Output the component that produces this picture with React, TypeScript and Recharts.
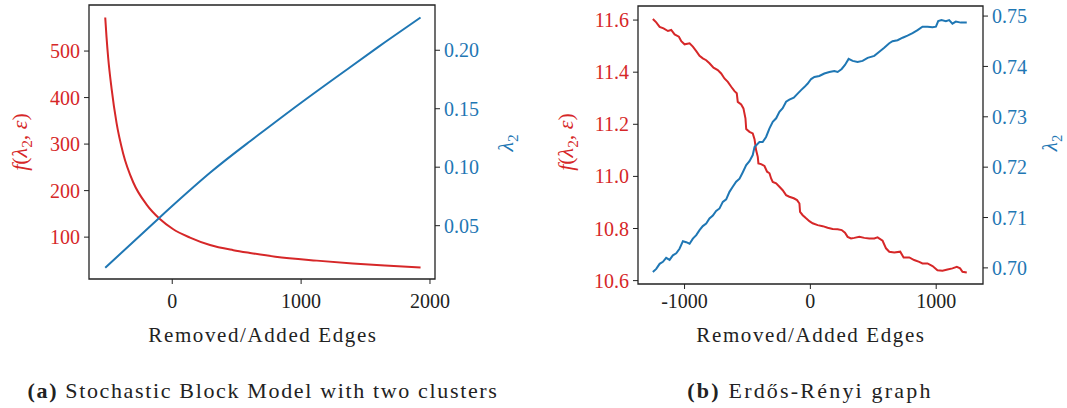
import React from 'react';
import { LineChart, Line, XAxis, YAxis, ReferenceArea } from 'recharts';

const RED = '#d62728';
const BLUE = '#1f77b4';
const INK = '#222';
const FONT = '"Liberation Serif", "Times New Roman", serif';

// (a) stochastic block model
const sbmFx = [-520, -510, -497, -471, -432, -381, -303, -199, -96, 8, 138, 293, 474, 604, 800, 1122, 1400, 1650, 1927];
const sbmF = [572, 530, 485, 420, 345, 280, 218, 170, 139, 117, 99, 83, 72, 66, 58, 49.5, 43.5, 39, 34.5];
const sbmLx = [-520, -110, 293, 604, 992, 1380, 1650, 1927];
const sbmL = [0.014, 0.0558, 0.0952, 0.1222, 0.1545, 0.1855, 0.2068, 0.228];

const sbmXTicks = [0, 1000, 2000];
const sbmFTicks = [100, 200, 300, 400, 500];
const sbmLTicks = [0.05, 0.1, 0.15, 0.2];

// (b) Erdős-Rényi
const erFx = [
  -1252, -1225, -1198, -1167, -1132, -1106, -1079, -1045, -1026, -1000,
  -960, -934, -907, -881, -855, -828, -802, -770, -736, -709,
  -683, -656, -629, -603, -585, -577, -550, -532, -516, -510,
  -484, -458, -444, -431, -418, -413, -392, -365, -344, -325,
  -312, -299, -272, -246, -220, -193, -167, -132, -106, -87,
  -82, -61, -34, -8, 18, 58, 98, 137, 177, 217,
  249, 275, 296, 323, 349, 389, 429, 468, 508, 534,
  574, 601, 627, 667, 714, 741, 786, 825, 865, 891,
  931, 971, 1010, 1050, 1090, 1129, 1164, 1190, 1209, 1243,
];
const erF = [
  11.604, 11.591, 11.574, 11.568, 11.558, 11.562, 11.545, 11.536, 11.519, 11.507,
  11.511, 11.498, 11.481, 11.463, 11.453, 11.446, 11.434, 11.417, 11.408, 11.395,
  11.376, 11.363, 11.344, 11.327, 11.319, 11.286, 11.276, 11.261, 11.223, 11.182,
  11.171, 11.165, 11.143, 11.1, 11.075, 11.05, 11.047, 11.04, 11.018, 11.012,
  10.992, 10.979, 10.973, 10.96, 10.947, 10.928, 10.922, 10.916, 10.909, 10.896,
  10.864, 10.851, 10.839, 10.828, 10.82, 10.813, 10.809, 10.803, 10.798, 10.797,
  10.794, 10.784, 10.768, 10.762, 10.764, 10.768, 10.764, 10.762, 10.762, 10.766,
  10.753, 10.724, 10.711, 10.708, 10.711, 10.689, 10.689, 10.679, 10.672, 10.666,
  10.666, 10.656, 10.64, 10.638, 10.643, 10.647, 10.653, 10.647, 10.634, 10.631,
];
const erLx = [
  -1252, -1225, -1198, -1172, -1146, -1119, -1093, -1066, -1040, -1013,
  -987, -960, -934, -907, -881, -855, -828, -802, -775, -749,
  -722, -696, -669, -643, -617, -590, -563, -537, -510, -484,
  -458, -444, -405, -379, -352, -325, -299, -272, -246, -220,
  -193, -167, -132, -101, -74, -48, -21, 6, 32, 71,
  111, 151, 190, 217, 249, 275, 304, 336, 375, 415,
  455, 508, 548, 587, 627, 653, 693, 733, 772, 812,
  852, 891, 931, 971, 998, 1016, 1042, 1077, 1103, 1129,
  1156, 1196, 1243,
];
const erL = [
  0.6992, 0.6998, 0.7008, 0.7012, 0.702, 0.7016, 0.7025, 0.7029, 0.7038, 0.7053,
  0.7051, 0.7048, 0.7058, 0.7065, 0.7075, 0.7083, 0.7088, 0.7098, 0.7104, 0.7113,
  0.7118, 0.7131, 0.7136, 0.7151, 0.7161, 0.7171, 0.7177, 0.719, 0.7204, 0.7212,
  0.7224, 0.724, 0.725, 0.725, 0.726, 0.7277, 0.729, 0.7297, 0.731, 0.7317,
  0.733, 0.7334, 0.7338, 0.7346, 0.7353, 0.7359, 0.7366, 0.7375, 0.7379, 0.7381,
  0.7386, 0.7389, 0.7391, 0.7389, 0.7395, 0.7403, 0.7415, 0.7411, 0.7409, 0.7411,
  0.7417, 0.7421, 0.7429, 0.7437, 0.7446, 0.745, 0.7452, 0.7457, 0.7461, 0.7466,
  0.7472, 0.7479, 0.7479, 0.7478, 0.7479, 0.749, 0.7492, 0.749, 0.7492, 0.7485,
  0.7489, 0.7487, 0.7487,
];

const erXTicks = [-1000, 0, 1000];
const erFTicks = [10.6, 10.8, 11.0, 11.2, 11.4, 11.6];
const erLTicks = [0.7, 0.71, 0.72, 0.73, 0.74, 0.75];

const pts = (xs: number[], ys: number[]) => xs.map((x, i) => ({ x, y: ys[i] }));

const tickFont = (fill: string) => ({ fontSize: 20, fontFamily: FONT, fill });

type Curve = 'monotone' | 'linear' | 'natural';

type PanelProps = {
  left: number;
  width: number;
  margin: { top: number; right: number; bottom: number; left: number };
  leftW: number;
  rightW: number;
  xDomain: [number, number];
  fDomain: [number, number];
  lDomain: [number, number];
  xTicks: number[];
  fTicks: number[];
  lTicks: number[];
  fDigits: number;
  xTickMargin: number;
  red: { x: number; y: number }[];
  blue: { x: number; y: number }[];
  redCurve: Curve;
  blueCurve: Curve;
};

const Panel = (p: PanelProps) => (
  <div style={{ position: 'absolute', left: p.left, top: 0 }}>
    <LineChart width={p.width} height={330} margin={p.margin}>
      <XAxis
        type="number"
        dataKey="x"
        domain={p.xDomain}
        ticks={p.xTicks}
        allowDataOverflow
        axisLine={false}
        tickLine={{ stroke: INK }}
        tickSize={5}
        tickMargin={p.xTickMargin}
        height={30}
        tick={tickFont(INK)}
        interval={0}
      />
      <YAxis
        yAxisId="f"
        type="number"
        domain={p.fDomain}
        ticks={p.fTicks}
        allowDataOverflow
        axisLine={false}
        tickLine={{ stroke: INK }}
        tickSize={5}
        tickMargin={4}
        width={p.leftW}
        tick={tickFont(RED)}
        tickFormatter={(v: number) => v.toFixed(p.fDigits)}
        interval={0}
      />
      <YAxis
        yAxisId="l"
        orientation="right"
        type="number"
        domain={p.lDomain}
        ticks={p.lTicks}
        allowDataOverflow
        axisLine={false}
        tickLine={{ stroke: INK }}
        tickSize={5}
        tickMargin={4}
        width={p.rightW}
        tick={tickFont(BLUE)}
        tickFormatter={(v: number) => v.toFixed(2)}
        interval={0}
      />
      <ReferenceArea
        yAxisId="f"
        x1={p.xDomain[0]}
        x2={p.xDomain[1]}
        y1={p.fDomain[0]}
        y2={p.fDomain[1]}
        fill="none"
        stroke={INK}
        strokeWidth={1.3}
        ifOverflow="visible"
      />
      <Line
        yAxisId="f"
        data={p.red}
        dataKey="y"
        type={p.redCurve}
        stroke={RED}
        strokeWidth={2}
        dot={false}
        isAnimationActive={false}
      />
      <Line
        yAxisId="l"
        data={p.blue}
        dataKey="y"
        type={p.blueCurve}
        stroke={BLUE}
        strokeWidth={2}
        dot={false}
        isAnimationActive={false}
      />
    </LineChart>
  </div>
);

const Label = ({ x, y, rotate = 0, color = INK, size = 21, spacing = 0, children }: any) => (
  <div
    style={{
      position: 'absolute',
      left: x,
      top: y,
      transform: `translate(-50%, -50%) rotate(${rotate}deg)`,
      color,
      fontSize: size,
      fontFamily: FONT,
      letterSpacing: spacing,
      whiteSpace: 'nowrap',
      lineHeight: 1,
    }}
  >
    {children}
  </div>
);

const FLabel = () => (
  <span>
    <i>f</i>(<i>λ</i>
    <sub style={{ fontSize: '0.7em' }}>2</sub>, <i>ε</i>)
  </span>
);

const LLabel = () => (
  <span>
    <i>λ</i>
    <sub style={{ fontSize: '0.7em' }}>2</sub>
  </span>
);

export default function App() {
  return (
    <div
      style={{
        position: 'fixed',
        left: 0,
        top: 0,
        width: 1067,
        height: 408,
        background: '#fff',
        overflow: 'hidden',
      }}
    >
      <Panel
        left={0}
        width={533}
        margin={{ top: 5, right: 0, bottom: 21, left: 0 }}
        leftW={89}
        rightW={98}
        xDomain={[-646, 2039]}
        fDomain={[10, 599]}
        lDomain={[0.0044, 0.2387]}
        xTicks={sbmXTicks}
        fTicks={sbmFTicks}
        lTicks={sbmLTicks}
        fDigits={0}
        xTickMargin={10}
        red={pts(sbmFx, sbmF)}
        blue={pts(sbmLx, sbmL)}
        redCurve="monotone"
        blueCurve="natural"
      />
      <Panel
        left={533}
        width={534}
        margin={{ top: 6, right: 0, bottom: 16, left: 0 }}
        leftW={105}
        rightW={84}
        xDomain={[-1370, 1372]}
        fDomain={[10.587, 11.654]}
        lDomain={[0.6968, 0.752]}
        xTicks={erXTicks}
        fTicks={erFTicks}
        lTicks={erLTicks}
        fDigits={1}
        xTickMargin={5}
        red={pts(erFx, erF)}
        blue={pts(erLx, erL)}
        redCurve="linear"
        blueCurve="linear"
      />

      <Label x={22} y={142} rotate={-90} color={RED} size={22}>
        <FLabel />
      </Label>
      <Label x={508} y={143} rotate={-90} color={BLUE} size={22}>
        <LLabel />
      </Label>
      <Label x={568} y={142} rotate={-90} color={RED} size={22}>
        <FLabel />
      </Label>
      <Label x={1052} y={143} rotate={-90} color={BLUE} size={21}>
        <LLabel />
      </Label>

      <Label x={263} y={335} spacing={1.6}>
        Removed/Added Edges
      </Label>
      <Label x={811} y={335} spacing={1.6}>
        Removed/Added Edges
      </Label>

      <Label x={263} y={391} size={22} spacing={1.65}>
        <b>(a)</b> Stochastic Block Model with two clusters
      </Label>
      <Label x={810} y={391} size={22} spacing={2.2}>
        <b>(b)</b> Erdős-Rényi graph
      </Label>
    </div>
  );
}
